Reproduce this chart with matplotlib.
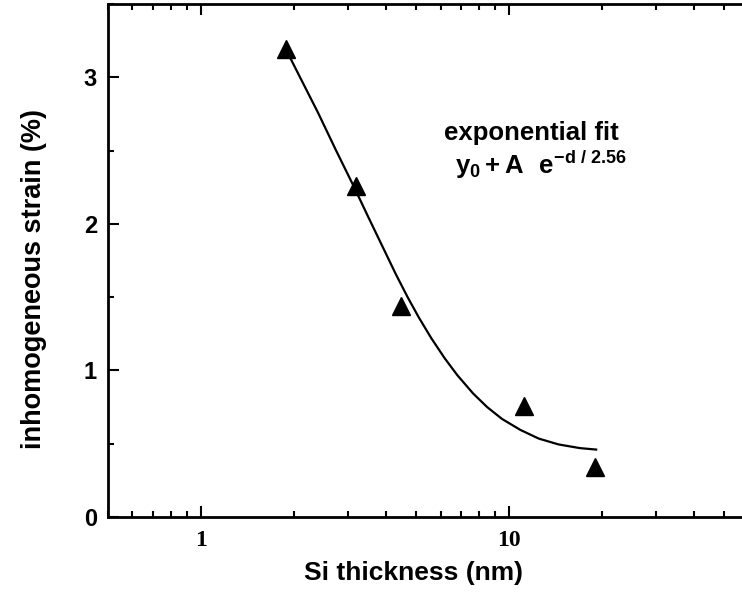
import numpy as np
import matplotlib as mpl
import matplotlib.pyplot as plt
from matplotlib.ticker import LogLocator, MultipleLocator, FixedLocator, FixedFormatter, NullFormatter

dpi = 100

# measured points (Si thickness in nm, strain in %)
thickness = [1.89, 3.20, 4.45, 11.16, 19.1]
strain = [3.19, 2.26, 1.44, 0.76, 0.34]

# fit curve
fit_x = [1.89, 2.1, 2.4, 2.75, 3.13, 3.5, 3.9, 4.3, 4.7, 5.1, 5.6, 6.19,
         6.8, 7.66, 8.5, 9.5, 10.9, 12.5, 14.5, 17.0, 19.2]
fit_y = [3.19, 3.00, 2.76, 2.50, 2.26, 2.045, 1.84, 1.655, 1.497, 1.362, 1.22, 1.083,
         0.968, 0.842, 0.75, 0.669, 0.594, 0.535, 0.495, 0.47, 0.46]

x_ticks = [1, 10]
x_ticklabels = ['1', '10']
y_ticks = [0, 1, 2, 3]

mpl.rcParams.update({'font.family': 'Liberation Sans', 'font.weight': 'bold',
                     'mathtext.fontset': 'custom',
                     'mathtext.rm': 'Liberation Sans:bold',
                     'mathtext.it': 'Liberation Sans:bold',
                     'mathtext.bf': 'Liberation Sans:bold'})

fig = plt.figure(figsize=(742 / dpi, 592 / dpi), dpi=dpi)
# axes runs past the right edge of the figure (cropped, like the scan)
ax = fig.add_axes([108 / 742, 1 - 517 / 592, (817 - 108) / 742, (517 - 4) / 592])

ax.plot(fit_x, fit_y, color='black', lw=1.6, zorder=2)
ax.plot(thickness, strain, '^', color='black', ms=13, zorder=3)

ax.set_xscale('log')
ax.set_xlim(0.5, 100)
ax.set_ylim(0, 3.5)

ax.xaxis.set_major_locator(FixedLocator(x_ticks))
ax.xaxis.set_major_formatter(FixedFormatter(x_ticklabels))
ax.xaxis.set_minor_locator(LogLocator(base=10, subs=np.arange(2, 10)))
ax.xaxis.set_minor_formatter(NullFormatter())
ax.yaxis.set_major_locator(FixedLocator(y_ticks))
ax.yaxis.set_minor_locator(MultipleLocator(0.5))

for s in ax.spines.values():
    s.set_linewidth(2)

ax.tick_params(which='both', direction='in', top=True, right=False, width=1.5)
ax.tick_params(which='major', length=8)
ax.tick_params(which='minor', length=4)
ax.tick_params(axis='y', labelsize=17, pad=8)
ax.tick_params(axis='x', labelsize=17, pad=9)
for lbl in ax.get_xticklabels():
    lbl.set_fontfamily('Liberation Serif')
    lbl.set_fontweight('bold')

ax.set_xlabel('Si thickness (nm)', fontsize=19, fontweight='bold')
ax.xaxis.set_label_coords((413 - 108) / 709, -0.085)
ax.set_ylabel('inhomogeneous strain (%)', fontsize=19.5, fontweight='bold')
ax.yaxis.set_label_coords((47 - 108) / 709, (517 - 279) / 513)

ax.text(11.8, 2.62, 'exponential fit', fontsize=18.5, fontweight='bold', ha='center', va='center')
ax.text(12.7, 2.4, r'$y_0 + A\ \ e^{-d\ /\ 2.56}$', fontsize=18.5, ha='center', va='center')

plt.savefig('out.png', dpi=dpi)
